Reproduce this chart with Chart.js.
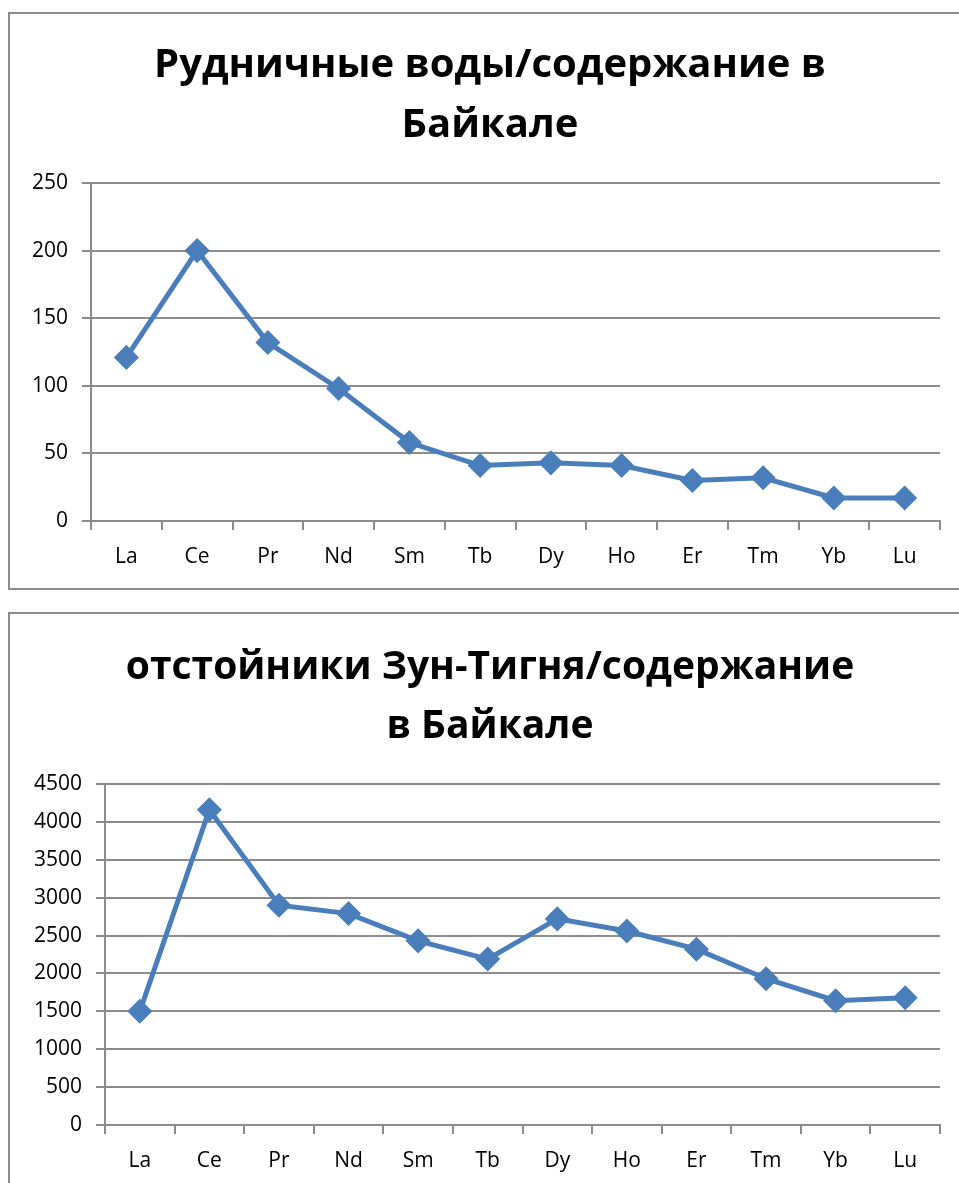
<!DOCTYPE html>
<html>
<head>
<meta charset="utf-8">
<script src="https://cdn.jsdelivr.net/npm/chart.js@4"></script>
<style>
  html, body { margin: 0; padding: 0; background: #fff; overflow: hidden; }
  .box { position: absolute; left: 8px; width: 970px; border: 2px solid #8c8c8c; background: #fff; }
  #box1 { top: 12px; height: 574px; }
  #box2 { top: 612px; height: 600px; }
  canvas { display: block; }
</style>
</head>
<body>
<div class="box" id="box1"><canvas id="chart1" width="960" height="574"></canvas></div>
<div class="box" id="box2"><canvas id="chart2" width="960" height="578"></canvas></div>
<script>
const elements = ['La', 'Ce', 'Pr', 'Nd', 'Sm', 'Tb', 'Dy', 'Ho', 'Er', 'Tm', 'Yb', 'Lu'];
const mineWater = [121, 200, 132, 98, 58, 41, 43, 41, 30, 32, 17, 17];
const settlingPonds = [1500, 4160, 2900, 2790, 2430, 2190, 2720, 2560, 2320, 1930, 1640, 1680];

const title1 = ['Рудничные воды/содержание в', 'Байкале'];
const title2 = ['отстойники Зун-Тигня/содержание', 'в Байкале'];

const FONT = "'Open Sans', 'Noto Sans', sans-serif";
const GRID = '#8c8c8c';
const BLUE = '#4a7ebb';

function makeChart(id, values, title, yMax, yStep, yWidth, titlePad, titleSize) {
  return new Chart(document.getElementById(id), {
    type: 'line',
    data: {
      labels: elements,
      datasets: [{
        data: values,
        yAxisID: 'y',
        borderColor: BLUE,
        backgroundColor: BLUE,
        borderWidth: 5,
        pointStyle: 'rectRot',
        pointRadius: 9,
        pointHoverRadius: 9,
        tension: 0
      }]
    },
    options: {
      responsive: false,
      animation: false,
      layout: { padding: 0 },
      plugins: {
        legend: { display: false },
        tooltip: { enabled: false },
        title: {
          display: true,
          text: title,
          color: '#000',
          font: { family: FONT, size: titleSize, weight: 'bold', lineHeight: 1.5 },
          padding: titlePad
        }
      },
      scales: {
        x: {
          offset: true,
          grid: { offset: true, drawOnChartArea: false, drawTicks: true, tickLength: 9, color: GRID, lineWidth: 2 },
          border: { color: GRID, width: 2 },
          ticks: { color: '#000', font: { family: FONT, size: 21 }, padding: 14 },
          afterFit: s => { s.height = 67; }
        },
        y: {
          position: 'left',
          min: 0,
          max: yMax,
          ticks: {
            stepSize: yStep, color: '#000', font: { family: FONT, size: 21 }, padding: 14,
            callback: v => String(v)
          },
          grid: { color: GRID, lineWidth: 2, tickLength: 9 },
          border: { color: GRID, width: 2 },
          afterFit: s => { s.width = yWidth; }
        },
        // empty right-hand margin so the plot stops short of the box edge
        yr: {
          position: 'right',
          min: 0,
          max: yMax,
          grid: { display: false },
          border: { display: false },
          ticks: { display: false },
          afterFit: s => { s.width = 30; }
        }
      }
    }
  });
}

makeChart('chart1', mineWater, title1, 250, 50, 81, { top: 22, bottom: 27 }, 40);
makeChart('chart2', settlingPonds, title2, 4500, 500, 95, { top: 25, bottom: 28 }, 39);
</script>
</body>
</html>
